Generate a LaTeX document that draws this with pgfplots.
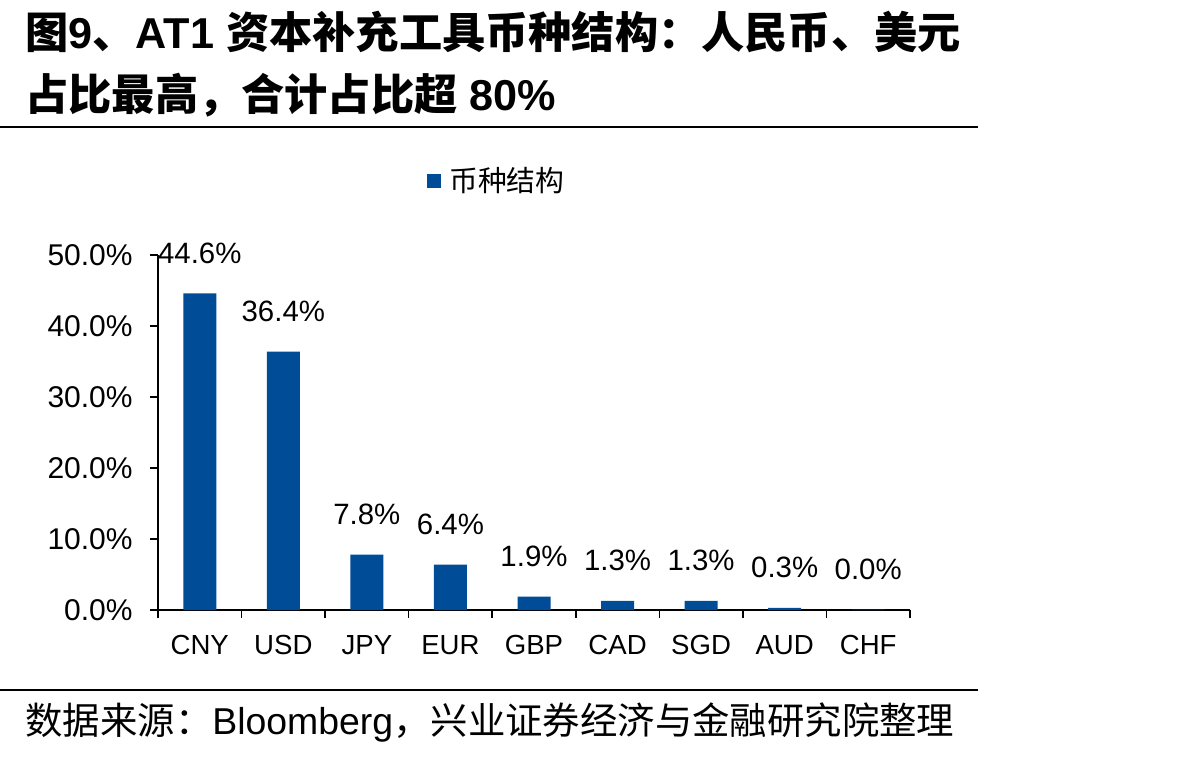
\documentclass[border=0pt]{standalone}
\usepackage{pgfplots}
\pgfplotsset{compat=1.18}
\usepackage{pgfplotstable}
\usepackage{fontspec}
\setmainfont{Liberation Sans}
\newfontfamily\cjk{Noto Sans CJK SC}
\definecolor{barblue}{RGB}{0,76,151}

% AT1 capital instruments: share by currency (%)
\pgfplotstableread{
idx share
0 44.6
1 36.4
2 7.8
3 6.4
4 1.9
5 1.3
6 1.3
7 0.3
8 0.04
}\sharetable

\begin{document}
\begin{tikzpicture}
\path[use as bounding box] (0,0) rectangle (596pt,378.5pt);

% title
\node[anchor=west, inner sep=0pt, font=\fontsize{21.6}{25}\selectfont\bfseries]
  at (12.5pt,362.5pt) {{\cjk\bfseries 图}9{\cjk\bfseries 、}AT1 {\cjk\bfseries 资本补充工具币种结构：人民币、美元}};
\node[anchor=west, inner sep=0pt, font=\fontsize{21.6}{25}\selectfont\bfseries]
  at (12.5pt,331pt) {{\cjk\bfseries 占比最高，合计占比超} 80\%};
\draw[line width=1.2pt] (0pt,315pt) -- (489pt,315pt);

% source
\draw[line width=1.2pt] (0pt,33.5pt) -- (489pt,33.5pt);
\node[anchor=west, inner sep=0pt, font=\fontsize{18.7}{22}\selectfont]
  at (12.5pt,17.5pt) {{\cjk 数据来源：}Bloomberg{\cjk ，兴业证券经济与金融研究院整理}};

\begin{axis}[
  at={(79pt,73.5pt)}, anchor=south west,
  scale only axis, width=376pt, height=177.5pt,
  xmin=-0.5, xmax=8.5, ymin=0, ymax=50,
  clip=false,
  axis x line*=bottom, axis y line*=left,
  axis line style={line width=0.8pt, -},
  tick align=outside, major tick length=4pt,
  tick style={black, line width=0.8pt},
  xtick={-0.5,0.5,1.5,2.5,3.5,4.5,5.5,6.5,7.5,8.5},
  x tick label as interval,
  xticklabels={CNY,USD,JPY,EUR,GBP,CAD,SGD,AUD,CHF},
  xticklabel style={anchor=base, inner sep=0pt, yshift=-18pt, font=\fontsize{13.8}{16}\selectfont},
  ytick={0,10,20,30,40,50},
  yticklabel={\pgfmathprintnumber[fixed,fixed zerofill,precision=1]{\tick}\%},
  yticklabel style={anchor=east, inner sep=0pt, xshift=-8.5pt, font=\fontsize{15}{18}\selectfont},
  /pgf/number format/assume math mode=true,
  legend style={at={(0.3577,1.2085)}, anchor=west, draw=none, fill=none,
    inner sep=0pt, font=\fontsize{14.4}{17}\selectfont,
    /tikz/every odd column/.append style={column sep=2pt}},
]
\addplot[ybar, bar width=16.5pt, fill=barblue, draw=none,
  legend image code/.code={\fill[barblue] (0pt,-3.5pt) rectangle (7pt,3.5pt);},
  point meta=explicit,
  nodes near coords={\pgfmathprintnumber[fixed,fixed zerofill,precision=1]{\pgfplotspointmeta}\%},
  every node near coord/.append style={anchor=base, inner sep=0pt, yshift=15pt,
    font=\fontsize{14.7}{17}\selectfont, text=black},
] table[x=idx, y=share, meta=share] {\sharetable};
\addlegendentry{\cjk 币种结构}
\end{axis}
\end{tikzpicture}
\end{document}
